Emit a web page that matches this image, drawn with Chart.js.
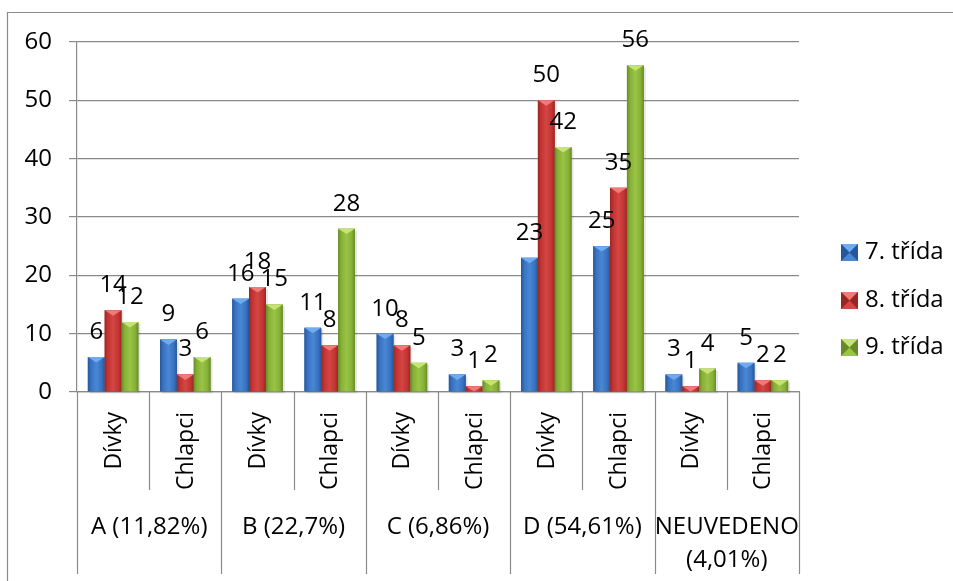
<!DOCTYPE html>
<html>
<head>
<meta charset="utf-8">
<script src="https://cdn.jsdelivr.net/npm/chart.js@4"></script>
<style>
html,body{margin:0;padding:0;background:#fff;}
#wrap{width:953px;height:581px;}
</style>
</head>
<body>
<div id="wrap"><canvas id="c" width="953" height="581"></canvas></div>
<script>
// ---- data ----
const categories = ['Dívky','Chlapci','Dívky','Chlapci','Dívky','Chlapci','Dívky','Chlapci','Dívky','Chlapci'];
const groups = [['A (11,82%)'],['B (22,7%)'],['C (6,86%)'],['D (54,61%)'],['NEUVEDENO','(4,01%)']];
const seriesNames = ['7. třída','8. třída','9. třída'];
const grade7 = [6,9,16,11,10,3,23,25,3,5];
const grade8 = [14,3,18,8,8,1,50,35,1,2];
const grade9 = [12,6,15,28,5,2,42,56,4,2];
const yTicks = [0,10,20,30,40,50,60];

// ---- styles ----
const FONT = '"Open Sans", "DejaVu Sans", sans-serif';
const FS = 24;
const FS_ROT = 23;
const GRID = '#8a8a8a';
const palettes = [
  {dark:'#27569a', mid:'#3872c0', light:'#4987d4', top:'#6fabf0'},
  {dark:'#982624', mid:'#c23432', light:'#d44644', top:'#f07a78'},
  {dark:'#678a28', mid:'#86b036', light:'#99c446', top:'#c6e474'}
];

const barStyle = {
  id:'barStyle',
  afterDatasetsDraw(chart){
    const ctx = chart.ctx;
    chart.data.datasets.forEach((ds, di) => {
      const meta = chart.getDatasetMeta(di);
      const p = palettes[di];
      meta.data.forEach(el => {
        const {x, y, base, width} = el.getProps(['x','y','base','width'], true);
        const l = x - width/2, h = base - y;
        ctx.save();
        ctx.fillStyle = 'rgba(0,0,0,0.10)';
        ctx.fillRect(l+2, y+2, width, h);
        const g = ctx.createLinearGradient(l, 0, l+width, 0);
        g.addColorStop(0, p.dark);
        g.addColorStop(0.18, p.mid);
        g.addColorStop(0.5, p.light);
        g.addColorStop(0.82, p.mid);
        g.addColorStop(1, p.dark);
        ctx.fillStyle = g;
        ctx.fillRect(l, y, width, h);
        const d = Math.min(width*0.32, h);
        ctx.beginPath();
        ctx.moveTo(l, y);
        ctx.lineTo(l+width, y);
        ctx.lineTo(x, y+d);
        ctx.closePath();
        ctx.fillStyle = p.top;
        ctx.fill();
        ctx.restore();
      });
    });
    ctx.save();
    ctx.font = FS + 'px ' + FONT;
    ctx.fillStyle = '#000';
    ctx.textAlign = 'center';
    ctx.textBaseline = 'middle';
    chart.data.datasets.forEach((ds, di) => {
      const meta = chart.getDatasetMeta(di);
      meta.data.forEach((el, i) => {
        const {x, y} = el.getProps(['x','y'], true);
        ctx.fillText(String(ds.data[i]), x, y - 25);
      });
    });
    ctx.restore();
  },
  afterDraw(chart){
    const ctx = chart.ctx;
    const xs = chart.scales.x;
    const area = chart.chartArea;
    const n = categories.length;
    const cw = (xs.right - xs.left) / n;
    ctx.save();
    ctx.strokeStyle = GRID;
    ctx.lineWidth = 1.2;
    ctx.beginPath();
    ctx.moveTo(7.5, 600); ctx.lineTo(7.5, 12.5); ctx.lineTo(960, 12.5);
    ctx.stroke();
    for (let i = 0; i <= n; i++) {
      const bx = Math.round(xs.getPixelForValue(0) - cw/2 + i*cw) + 0.5;
      ctx.beginPath();
      ctx.moveTo(bx, area.bottom);
      ctx.lineTo(bx, i % 2 === 0 ? 574 : 490);
      ctx.stroke();
    }
    ctx.font = FS_ROT + 'px ' + FONT;
    ctx.fillStyle = '#000';
    categories.forEach((c, i) => {
      const cx = xs.getPixelForValue(i);
      ctx.save();
      ctx.translate(cx + 1, 412);
      ctx.rotate(-Math.PI/2);
      ctx.textAlign = 'right';
      ctx.textBaseline = 'middle';
      ctx.fillText(c, 0, 0);
      ctx.restore();
    });
    ctx.font = FS + 'px ' + FONT;
    ctx.textAlign = 'center';
    ctx.textBaseline = 'middle';
    groups.forEach((g, gi) => {
      const gx = (xs.getPixelForValue(gi*2) + xs.getPixelForValue(gi*2+1)) / 2;
      g.forEach((line, li) => ctx.fillText(line, gx, 527 + li*33));
    });
    const ly = [252, 300, 347];
    seriesNames.forEach((s, i) => {
      const p = palettes[i];
      const sx = 841, sy = ly[i] - 8, sz = 17;
      ctx.fillStyle = p.mid;
      ctx.fillRect(sx, sy, sz, sz);
      const cxp = sx + sz/2, cyp = sy + sz/2;
      ctx.fillStyle = p.top;
      ctx.beginPath(); ctx.moveTo(sx, sy); ctx.lineTo(sx+sz, sy); ctx.lineTo(cxp, cyp); ctx.closePath(); ctx.fill();
      ctx.fillStyle = p.light;
      ctx.beginPath(); ctx.moveTo(sx, sy+sz); ctx.lineTo(sx+sz, sy+sz); ctx.lineTo(cxp, cyp); ctx.closePath(); ctx.fill();
      ctx.fillStyle = p.dark;
      ctx.beginPath(); ctx.moveTo(sx, sy); ctx.lineTo(sx, sy+sz); ctx.lineTo(cxp, cyp); ctx.closePath(); ctx.fill();
      ctx.beginPath(); ctx.moveTo(sx+sz, sy); ctx.lineTo(sx+sz, sy+sz); ctx.lineTo(cxp, cyp); ctx.closePath(); ctx.fill();
      ctx.fillStyle = '#000';
      ctx.textAlign = 'left';
      ctx.fillText(s, 865, ly[i]);
    });
    ctx.restore();
  }
};

const seriesData = [grade7, grade8, grade9];
new Chart(document.getElementById('c'), {
  type: 'bar',
  data: {
    labels: categories,
    datasets: seriesNames.map((name, i) => ({
      label: name,
      data: seriesData[i],
      backgroundColor: palettes[i].mid,
      borderWidth: 0,
      categoryPercentage: 0.7,
      barPercentage: 1.0
    }))
  },
  options: {
    responsive: false,
    animation: false,
    devicePixelRatio: 1,
    layout: { padding: { top: 42, right: 154, bottom: 0, left: 0 } },
    plugins: { legend: { display: false }, tooltip: { enabled: false } },
    scales: {
      x: {
        grid: { display: false },
        border: { display: true, color: GRID, width: 1.2 },
        ticks: { display: false },
        afterFit(s){ s.height = 189; }
      },
      y: {
        min: yTicks[0], max: yTicks[yTicks.length-1],
        afterBuildTicks(s){ s.ticks = yTicks.map(v => ({value: v})); },
        grid: { color: GRID, lineWidth: 1.2, tickLength: 8 },
        border: { display: true, color: GRID, width: 1.2 },
        ticks: { color: '#000', font: { family: FONT, size: FS }, padding: 17 },
        afterFit(s){ s.width = 77; }
      }
    }
  },
  plugins: [barStyle]
});
</script>
</body>
</html>
